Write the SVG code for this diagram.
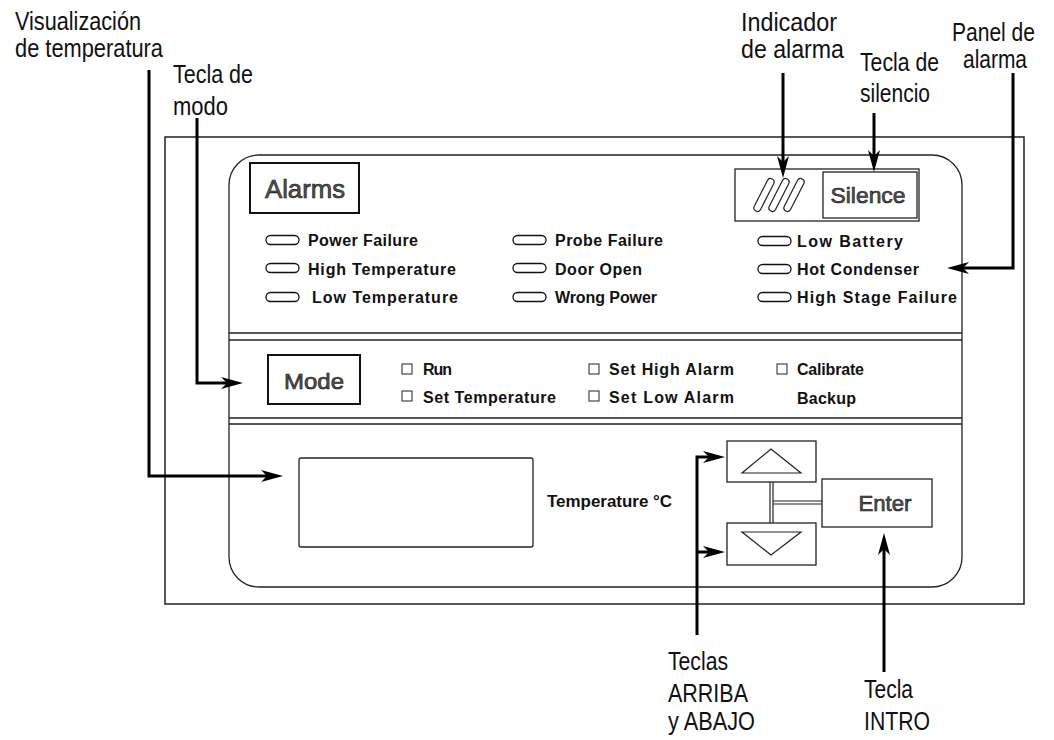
<svg xmlns="http://www.w3.org/2000/svg" width="1054" height="740" viewBox="0 0 1054 740">
<defs>
<style>
.lbl{font-family:"Liberation Sans",Arial,sans-serif;font-size:25px;fill:#111;}
.pt{font-family:"Liberation Sans",Arial,sans-serif;font-size:16px;font-weight:bold;fill:#111;}
.key{font-family:"Liberation Sans",Arial,sans-serif;font-size:22px;fill:#555;stroke:#111;stroke-width:0.6;}
.ln{fill:none;stroke:#222;stroke-width:1.3;}
.led{fill:#fff;stroke:#111;stroke-width:1.3;}
.cb{fill:#fff;stroke:#222;stroke-width:1;}
.con{fill:none;stroke:#000;stroke-width:3;stroke-linejoin:miter;marker-end:url(#ah);}
</style>
<marker id="ah" markerUnits="userSpaceOnUse" markerWidth="24" markerHeight="14" refX="10" refY="6" orient="auto">
<path d="M0,0 L22,6 L0,12 L6,6 z" fill="#000"/>
</marker>
</defs>
<rect width="1054" height="740" fill="#fff"/>

<g id="housing">
<rect x="165" y="137" width="859" height="467" fill="none" stroke="#222" stroke-width="1.5"/>
<path class="ln" d="M259,155 H932 A30,30 0 0 1 962,185 V557 A30,30 0 0 1 932,587 H259 A30,30 0 0 1 229,557 V185 A30,30 0 0 1 259,155 Z"/>
<line class="ln" x1="229" y1="333" x2="962" y2="333"/>
<line class="ln" x1="229" y1="340" x2="962" y2="340"/>
<line class="ln" x1="229" y1="418" x2="962" y2="418"/>
<line class="ln" x1="229" y1="424" x2="962" y2="424"/>
</g>

<g id="alarms-box">
<rect x="250" y="163" width="109" height="50" fill="#fff" stroke="#111" stroke-width="2"/>
<text class="key" x="305" y="198" text-anchor="middle" style="font-size:25px" textLength="80" lengthAdjust="spacingAndGlyphs">Alarms</text>
</g>

<g id="alarm-leds">
<rect class="led" x="266" y="235.5" width="33" height="9" rx="4.5"/>
<rect class="led" x="266" y="263.5" width="33" height="9" rx="4.5"/>
<rect class="led" x="266" y="292.5" width="33" height="9" rx="4.5"/>
<rect class="led" x="513" y="235.5" width="33" height="9" rx="4.5"/>
<rect class="led" x="513" y="263.5" width="33" height="9" rx="4.5"/>
<rect class="led" x="513" y="292.5" width="33" height="9" rx="4.5"/>
<rect class="led" x="758" y="236.5" width="33" height="9" rx="4.5"/>
<rect class="led" x="758" y="264.5" width="33" height="9" rx="4.5"/>
<rect class="led" x="758" y="292.5" width="33" height="9" rx="4.5"/>
<text class="pt" x="308" y="246" textLength="110" lengthAdjust="spacing">Power Failure</text>
<text class="pt" x="308" y="275" textLength="148" lengthAdjust="spacing">High Temperature</text>
<text class="pt" x="312" y="303" textLength="146" lengthAdjust="spacing">Low Temperature</text>
<text class="pt" x="555" y="246" textLength="108" lengthAdjust="spacing">Probe Failure</text>
<text class="pt" x="555" y="275" textLength="87" lengthAdjust="spacing">Door Open</text>
<text class="pt" x="555" y="303" textLength="102" lengthAdjust="spacing">Wrong Power</text>
<text class="pt" x="797" y="247" textLength="106" lengthAdjust="spacing">Low Battery</text>
<text class="pt" x="797" y="275" textLength="122" lengthAdjust="spacing">Hot Condenser</text>
<text class="pt" x="797" y="303" textLength="160" lengthAdjust="spacing">High Stage Failure</text>
</g>

<g id="silence-area">
<rect x="735" y="169" width="184" height="52" fill="#fff" stroke="#222" stroke-width="1.3"/>
<g fill="#fff" stroke="#222" stroke-width="1.2">
<rect x="-3.5" y="-18" width="7" height="36" rx="3.5" transform="translate(764,195) rotate(27)"/>
<rect x="-3.5" y="-18" width="7" height="36" rx="3.5" transform="translate(779,195) rotate(27)"/>
<rect x="-3.5" y="-18" width="7" height="36" rx="3.5" transform="translate(794,195) rotate(27)"/>
</g>
</g>

<g id="silence-key">
<rect x="823" y="172" width="94" height="46" fill="#fff" stroke="#222" stroke-width="1.3"/>
<text class="key" x="868" y="203" text-anchor="middle" textLength="75" lengthAdjust="spacingAndGlyphs">Silence</text>
</g>

<g id="mode-key">
<rect x="268" y="355" width="92" height="49" fill="#fff" stroke="#111" stroke-width="2"/>
<text class="key" x="314" y="389" text-anchor="middle" textLength="60" lengthAdjust="spacingAndGlyphs">Mode</text>
</g>

<g id="mode-options">
<rect class="cb" x="402" y="364" width="10" height="10"/>
<rect class="cb" x="402" y="391" width="10" height="10"/>
<rect class="cb" x="589" y="364" width="10" height="10"/>
<rect class="cb" x="589" y="391" width="10" height="10"/>
<rect class="cb" x="777" y="364" width="10" height="10"/>
<text class="pt" x="423" y="375" textLength="29" lengthAdjust="spacing">Run</text>
<text class="pt" x="423" y="403" textLength="133" lengthAdjust="spacing">Set Temperature</text>
<text class="pt" x="609" y="375" textLength="125" lengthAdjust="spacing">Set High Alarm</text>
<text class="pt" x="609" y="403" textLength="125" lengthAdjust="spacing">Set Low Alarm</text>
<text class="pt" x="797" y="375" textLength="67" lengthAdjust="spacing">Calibrate</text>
<text class="pt" x="797" y="404" textLength="59" lengthAdjust="spacing">Backup</text>
</g>

<g id="temp-display">
<rect x="299" y="458" width="234" height="89" rx="2" fill="#fff" stroke="#222" stroke-width="1.3"/>
<text class="pt" x="547" y="507" textLength="125" lengthAdjust="spacingAndGlyphs">Temperature °C</text>
</g>

<g id="arrow-keys">
<line x1="770" y1="482" x2="770" y2="523" stroke="#222" stroke-width="1.2"/>
<line x1="773" y1="482" x2="773" y2="523" stroke="#222" stroke-width="1.2"/>
<line x1="773" y1="501" x2="822" y2="501" stroke="#222" stroke-width="1.2"/>
<line x1="773" y1="504" x2="822" y2="504" stroke="#222" stroke-width="1.2"/>
<rect x="727" y="441" width="89" height="41" fill="#fff" stroke="#222" stroke-width="1.3"/>
<polygon points="771,449 801,473 742,473" fill="#fff" stroke="#222" stroke-width="1.2"/>
<rect x="727" y="523" width="89" height="42" fill="#fff" stroke="#222" stroke-width="1.3"/>
<polygon points="742,532 801,532 771,555" fill="#fff" stroke="#222" stroke-width="1.2"/>
</g>

<g id="enter-key">
<rect x="822" y="479" width="110" height="48" fill="#fff" stroke="#222" stroke-width="1.3"/>
<text class="key" x="885" y="511" text-anchor="middle" textLength="53" lengthAdjust="spacingAndGlyphs">Enter</text>
</g>

<g id="labels">
<text class="lbl" x="15" y="30" textLength="126" lengthAdjust="spacingAndGlyphs">Visualización</text>
<text class="lbl" x="15" y="57" textLength="148" lengthAdjust="spacingAndGlyphs">de temperatura</text>
<text class="lbl" x="173" y="83" textLength="80" lengthAdjust="spacingAndGlyphs">Tecla de</text>
<text class="lbl" x="173" y="115" textLength="55" lengthAdjust="spacingAndGlyphs">modo</text>
<text class="lbl" x="741" y="31" textLength="96" lengthAdjust="spacingAndGlyphs">Indicador</text>
<text class="lbl" x="741" y="58" textLength="103" lengthAdjust="spacingAndGlyphs">de alarma</text>
<text class="lbl" x="860" y="71" textLength="79" lengthAdjust="spacingAndGlyphs">Tecla de</text>
<text class="lbl" x="860" y="102" textLength="70" lengthAdjust="spacingAndGlyphs">silencio</text>
<text class="lbl" x="952" y="41" textLength="83" lengthAdjust="spacingAndGlyphs">Panel de</text>
<text class="lbl" x="963" y="68" textLength="64" lengthAdjust="spacingAndGlyphs">alarma</text>
<text class="lbl" x="668" y="670" textLength="60" lengthAdjust="spacingAndGlyphs">Teclas</text>
<text class="lbl" x="668" y="702" textLength="80" lengthAdjust="spacingAndGlyphs">ARRIBA</text>
<text class="lbl" x="668" y="730" textLength="87" lengthAdjust="spacingAndGlyphs">y ABAJO</text>
<text class="lbl" x="864" y="698" textLength="49" lengthAdjust="spacingAndGlyphs">Tecla</text>
<text class="lbl" x="864" y="730" textLength="66" lengthAdjust="spacingAndGlyphs">INTRO</text>
</g>

<g id="connectors">
<path class="con" d="M149,70 V476 H271"/>
<path class="con" d="M197,118 V383 H231"/>
<path class="con" d="M697,635 V457 H713"/>
<path class="con" d="M697,552 H713"/>
<path class="con" d="M884,672 V545"/>
<path class="con" d="M783,73 V166"/>
<path class="con" d="M874,113 V160"/>
<path class="con" d="M1013,73 V268 H959"/>
</g>
</svg>
